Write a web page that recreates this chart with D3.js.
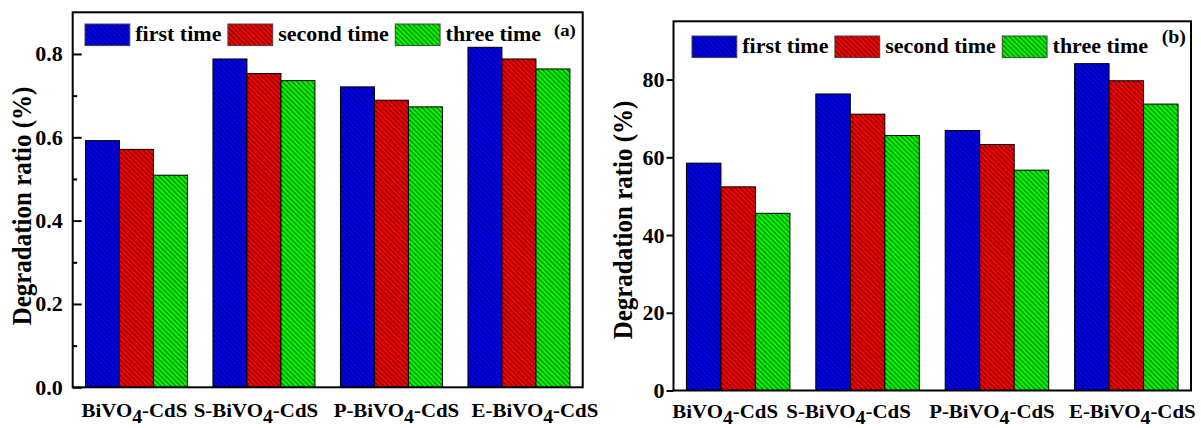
<!DOCTYPE html>
<html>
<head>
<meta charset="utf-8">
<script src="https://cdn.jsdelivr.net/npm/d3@7"></script>
<style>
  html, body { margin: 0; padding: 0; background: #fff; }
  svg { display: block; }
  text { font-family: "Liberation Serif", "Times New Roman", serif; font-weight: bold; fill: #000; }
</style>
</head>
<body>
<svg id="chart" width="1201" height="428"></svg>
<script>
// Samples and repeat runs
const categories = ["BiVO4-CdS", "S-BiVO4-CdS", "P-BiVO4-CdS", "E-BiVO4-CdS"];
const seriesNames = ["first time", "second time", "three time"];

// Panel (a): degradation ratio as a fraction
const firstTimeA  = [0.592, 0.788, 0.721, 0.816];
const secondTimeA = [0.571, 0.753, 0.689, 0.788];
const threeTimeA  = [0.509, 0.736, 0.673, 0.764];
const ticksA = [0, 0.2, 0.4, 0.6, 0.8];
const minorTicksA = [0.1, 0.3, 0.5, 0.7];
const tickLabelsA = ["0.0", "0.2", "0.4", "0.6", "0.8"];

// Panel (b): degradation ratio in percent
const firstTimeB  = [58.5, 76.3, 66.9, 84.1];
const secondTimeB = [52.4, 71.1, 63.3, 79.7];
const threeTimeB  = [45.6, 65.6, 56.7, 73.7];
const ticksB = [0, 20, 40, 60, 80];
const tickLabelsB = ["0", "20", "40", "60", "80"];

const yTitle = "Degradation ratio (%)";

// ---- styling / layout ----
const colors = ["#0000ff", "#ff0000", "#00ff00"];
const SX = 1.1; // horizontal text stretch

const panels = [
  {
    tag: "(a)", series: [firstTimeA, secondTimeA, threeTimeA],
    left: 72.7, right: 582.7, top: 12.3, bottom: 387.3, domain: [0, 0.9],
    ticks: ticksA, tickLabels: tickLabelsA, minor: minorTicksA,
    tickSize: -9, minorSize: -4.5, tickPad: 9.1,
    legendX: 85, legendY: 24, legendBase: 40.7,
    tagX: 554, tagY: 36, tagSize: 17,
    titleX: 31, titleY: 206,
    labelBase: 417, labelNudge: [-2, -8, 5, 16]
  },
  {
    tag: "(b)", series: [firstTimeB, secondTimeB, threeTimeB],
    left: 673.5, right: 1191, top: 21.3, bottom: 390.5, domain: [0, 95],
    ticks: ticksB, tickLabels: tickLabelsB, minor: [],
    tickSize: 7, minorSize: 0, tickPad: 1.2,
    legendX: 692, legendY: 36, legendBase: 53.3,
    tagX: 1161.7, tagY: 43, tagSize: 18,
    titleX: 632, titleY: 220,
    labelBase: 418, labelNudge: [-13, -19, -5, 6]
  }
];

const svg = d3.select("#chart");

// diagonal hatch ("\\\\") used over every bar and legend swatch
const defs = svg.append("defs");
const HP = 3.5;
const pat = defs.append("pattern")
  .attr("id", "hatch")
  .attr("patternUnits", "userSpaceOnUse")
  .attr("width", HP).attr("height", HP)
  .attr("patternTransform", "rotate(-45)");
pat.append("line")
  .attr("x1", HP / 2).attr("y1", -1).attr("x2", HP / 2).attr("y2", HP + 1)
  .attr("stroke", "#000").attr("stroke-width", 0.7);

// text with a lowered chemical subscript digit
function labelWithSub(sel, str, subSize, subDy) {
  const parts = str.split(/(\d)/).filter(p => p !== "");
  let shifted = false;
  parts.forEach(p => {
    const sp = sel.append("tspan").text(p);
    if (/^\d$/.test(p)) {
      sp.attr("dy", subDy).style("font-size", subSize + "px");
      shifted = true;
    } else if (shifted) {
      sp.attr("dy", -subDy);
      shifted = false;
    }
  });
}

panels.forEach(P => {
  const g = svg.append("g");

  const x0 = d3.scaleBand().domain(categories)
    .range([P.left, P.right]).paddingInner(0.2).paddingOuter(0.1);
  const x1 = d3.scaleBand().domain(d3.range(seriesNames.length))
    .range([0, x0.bandwidth()]).padding(0);
  const y = d3.scaleLinear().domain(P.domain).range([P.bottom, P.top]);

  // bars
  categories.forEach((c, ci) => {
    P.series.forEach((vals, si) => {
      const bx = x0(c) + x1(si), bw = x1.bandwidth();
      const by = y(vals[ci]), bh = y(0) - y(vals[ci]);
      g.append("rect").attr("x", bx).attr("y", by).attr("width", bw).attr("height", bh)
        .attr("fill", colors[si]);
      g.append("rect").attr("x", bx).attr("y", by).attr("width", bw).attr("height", bh)
        .attr("fill", "url(#hatch)").attr("stroke", "#000").attr("stroke-width", 1);
    });
  });

  // y axis ticks
  const axis = d3.axisLeft(y).tickValues(P.ticks)
    .tickSize(P.tickSize).tickSizeOuter(0).tickPadding(P.tickPad)
    .tickFormat((d, i) => P.tickLabels[i]);
  const ag = g.append("g").attr("transform", `translate(${P.left},0)`).call(axis);
  ag.attr("font-family", null).attr("font-size", null);
  ag.select(".domain").remove();
  ag.selectAll(".tick line").attr("stroke", "#000").attr("stroke-width", 2);
  ag.selectAll(".tick text")
    .style("font-size", "20px")
    .each(function () {
      const t = d3.select(this);
      const xx = +t.attr("x");
      t.attr("x", 0).attr("dy", "0.35em")
        .attr("transform", `translate(${xx * SX},0) scale(${SX},1)`);
    });
  if (P.minor.length) {
    const minorAxis = d3.axisLeft(y).tickValues(P.minor)
      .tickSize(P.minorSize).tickSizeOuter(0).tickFormat("");
    const mg = g.append("g").attr("transform", `translate(${P.left},0)`).call(minorAxis);
    mg.select(".domain").remove();
    mg.selectAll(".tick line").attr("stroke", "#000").attr("stroke-width", 2);
  }

  // frame
  g.append("rect")
    .attr("x", P.left).attr("y", P.top)
    .attr("width", P.right - P.left).attr("height", P.bottom - P.top)
    .attr("fill", "none").attr("stroke", "#000").attr("stroke-width", 2);

  // category labels
  categories.forEach((c, ci) => {
    const cx = x0(c) + x0.bandwidth() / 2 + P.labelNudge[ci];
    const t = g.append("text")
      .attr("text-anchor", "middle")
      .attr("transform", `translate(${cx},${P.labelBase}) scale(${SX},1)`)
      .style("font-size", "19px");
    labelWithSub(t, c, 18, 6);
  });

  // y title
  g.append("text")
    .attr("text-anchor", "middle")
    .attr("transform", `translate(${P.titleX},${P.titleY}) scale(${SX},1) rotate(-90)`)
    .style("font-size", "25px")
    .text(yTitle);

  // legend
  let lx = P.legendX;
  const boxW = 44.8, boxH = 21.6;
  seriesNames.forEach((name, si) => {
    g.append("rect").attr("x", lx).attr("y", P.legendY).attr("width", boxW).attr("height", boxH)
      .attr("fill", colors[si]);
    g.append("rect").attr("x", lx).attr("y", P.legendY).attr("width", boxW).attr("height", boxH)
      .attr("fill", "url(#hatch)").attr("stroke", "#444").attr("stroke-width", 1);
    const tx = lx + boxW + 5.5;
    const t = g.append("text")
      .attr("transform", `translate(${tx},${P.legendBase}) scale(${SX},1)`)
      .style("font-size", "20px")
      .text(name);
    const w = t.node().getComputedTextLength() * SX;
    lx = tx + w + 6.5;
  });

  // panel tag
  g.append("text")
    .attr("transform", `translate(${P.tagX},${P.tagY}) scale(${SX},1)`)
    .style("font-size", P.tagSize + "px")
    .text(P.tag);
});
</script>
</body>
</html>
